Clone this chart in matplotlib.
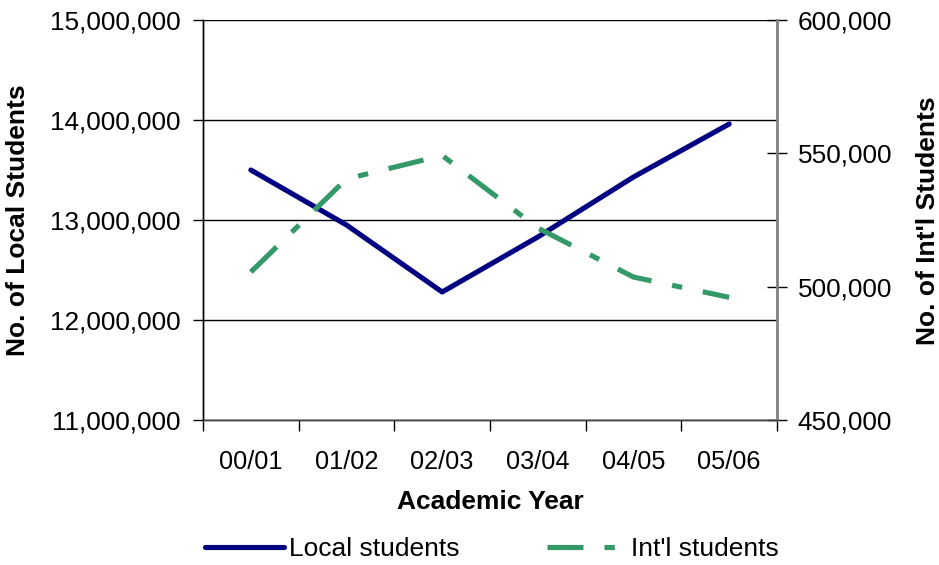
import matplotlib
matplotlib.use("Agg")
import matplotlib.pyplot as plt
from matplotlib.ticker import FuncFormatter, FixedLocator
from matplotlib.lines import Line2D

plt.rcParams['font.family'] = ['Liberation Sans', 'DejaVu Sans']

years = ["00/01", "01/02", "02/03", "03/04", "04/05", "05/06"]
local_students = [13500000, 12950000, 12280000, 12830000, 13430000, 13960000]
intl_students = [505500, 540400, 549200, 522000, 503600, 496000]

NAVY = "#000080"
GREEN = "#339966"
LW = 3.7
DASH = (7.0, 4.1, 2.0, 4.1)

fig = plt.figure(figsize=(9.39, 5.65), dpi=100)
ax = fig.add_axes([203 / 939, 145 / 565, 574 / 939, 400 / 565])
ax2 = ax.twinx()

x = range(len(years))
ax.plot(x, local_students, color=NAVY, lw=LW, solid_capstyle='round',
        solid_joinstyle='round', zorder=3)
ax2.plot(x, intl_students, color=GREEN, lw=LW, dashes=DASH,
         dash_capstyle='butt', zorder=3)

comma = FuncFormatter(lambda v, p: f"{int(v):,}")

ax.set_xlim(-0.5, len(years) - 0.5)
ax.set_ylim(11000000, 15000000)
ax.set_yticks([11000000, 12000000, 13000000, 14000000, 15000000])
ax.yaxis.set_major_formatter(comma)
ax.grid(axis='y', color='black', lw=1)
ax.set_axisbelow(True)

ax2.set_ylim(450000, 600000)
ax2.set_yticks([450000, 500000, 550000, 600000])
ax2.yaxis.set_major_formatter(comma)

# category labels sit between boundary ticks
ax.set_xticks(list(x))
ax.set_xticklabels(years)
ax.xaxis.set_minor_locator(FixedLocator([i - 0.5 for i in range(len(years) + 1)]))
ax.tick_params(axis='x', which='major', length=0, labelsize=18.3, pad=21.5)
ax.tick_params(axis='x', which='minor', length=8, width=1, direction='out', color='black')
ax.tick_params(axis='y', length=7, width=1, labelsize=18.8, pad=9, color='black')
ax2.tick_params(axis='y', length=15, width=1, direction='inout', labelsize=18.8,
                pad=7.5, color='black')

for a in (ax, ax2):
    a.spines['top'].set_visible(False)
    a.spines['left'].set_color('black')
    a.spines['left'].set_linewidth(1)
    a.spines['bottom'].set_color('#404040')
    a.spines['bottom'].set_linewidth(1)
ax.spines['right'].set_visible(False)
ax2.spines['right'].set_color('#808080')
ax2.spines['right'].set_linewidth(2)

ax.set_xlabel("Academic Year", fontsize=19, fontweight='bold', labelpad=11.5)
fig.text(18 / 939, 1 - 220 / 565, "No. of Local Students", rotation=90,
         fontsize=19, fontweight='bold', ha='center', va='center')
fig.text(928 / 939, 1 - 221 / 565, "No. of Int'l Students", rotation=90,
         fontsize=19, fontweight='bold', ha='center', va='center')

handles = [
    Line2D([], [], color=NAVY, lw=LW, solid_capstyle='round'),
    Line2D([], [], color=GREEN, lw=LW, dashes=DASH, dash_capstyle='butt'),
]
fig.legend(handles, ["Local students", "Int'l students"], loc='center',
           bbox_to_anchor=(492 / 939, 1 - 549 / 565), ncol=2, frameon=False,
           fontsize=19, handlelength=3.0, handletextpad=0.2, columnspacing=3.3,
           borderpad=0, borderaxespad=0)

fig.savefig("out.png", dpi=100)
